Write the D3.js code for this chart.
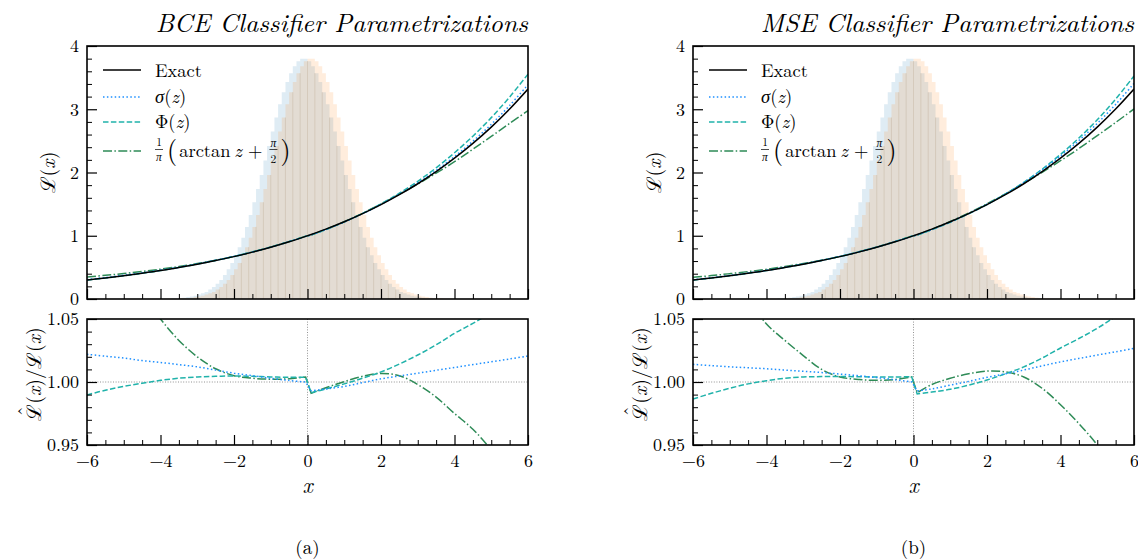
<!DOCTYPE html>
<html><head><meta charset="utf-8">
<script src="https://cdn.jsdelivr.net/npm/d3@7"></script>
<style>body{margin:0;background:#fff} svg{display:block}</style>
</head><body>
<svg id="c" width="1138" height="560"></svg>
<script>
// ---------- data ----------
const xs = [-6,-5.5,-5,-4.5,-4,-3.5,-3,-2.5,-2,-1.5,-1,-0.5,-0.05,0.1,0.5,1,1.5,2,2.5,3,3.5,4,4.5,5,5.5,6];
const exact = [0.301,0.333,0.368,0.407,0.449,0.497,0.549,0.607,0.670,0.741,0.819,0.905,0.990,1.020,1.105,1.221,1.350,1.492,1.649,1.822,2.014,2.226,2.460,2.718,3.004,3.320];
// ratio approx / exact, panel (a) BCE
const sigA  = [1.022,1.0205,1.019,1.017,1.0155,1.0138,1.012,1.0095,1.007,1.005,1.003,1.0012,1.000,0.993,0.9945,0.9965,0.9995,1.0025,1.0048,1.007,1.0093,1.0115,1.0138,1.016,1.0183,1.0206];
const phiA  = [0.9897,0.9935,0.9965,0.999,1.0013,1.003,1.004,1.0045,1.0048,1.0045,1.004,1.0037,1.0037,0.9915,0.9945,0.9985,1.003,1.008,1.0143,1.0214,1.0295,1.0386,1.0465,1.055,1.063,1.071];
const atanA = [1.16,1.125,1.095,1.07,1.05,1.033,1.02,1.0105,1.005,1.003,1.0022,1.0025,1.004,0.991,0.9955,1.0003,1.0045,1.0068,1.005,0.998,0.988,0.975,0.9625,0.946,0.924,0.897];
// ratio approx / exact, panel (b) MSE
const sigB  = [1.014,1.013,1.012,1.0113,1.0105,1.0095,1.0085,1.0075,1.0063,1.005,1.0035,1.0018,1.000,0.993,0.9945,0.9975,1.0005,1.0037,1.0065,1.0095,1.0128,1.016,1.0187,1.0214,1.024,1.0267];
const phiB  = [0.9865,0.991,0.995,0.9985,1.001,1.003,1.004,1.0043,1.0043,1.0042,1.004,1.004,1.0042,0.9905,0.992,0.9942,0.9975,1.0016,1.0065,1.012,1.019,1.027,1.0345,1.0426,1.052,1.062];
const atanB = [1.14,1.11,1.088,1.066,1.046,1.033,1.021,1.010,1.004,1.002,1.0013,1.002,1.004,0.9915,0.998,1.003,1.0065,1.0087,1.008,1.004,0.995,0.982,0.967,0.95,0.929,0.905];
// histograms (bins of width 0.1 starting at -4)
const binStart = -4, binWidth = 0.1;
const histBlue = [0.002,0.003,0.005,0.01,0.01,0.01,0.02,0.03,0.04,0.05,0.07,0.09,0.11,0.15,0.19,0.24,0.30,0.38,0.47,0.57,0.69,0.82,0.97,1.14,1.33,1.53,1.74,1.96,2.19,2.42,2.65,2.87,3.08,3.27,3.43,3.57,3.68,3.76,3.80,
  3.80,3.76,3.68,3.57,3.43,3.27,3.08,2.87,2.65,2.42,2.19,1.96,1.74,1.53,1.33,1.14,0.97,0.82,0.69,0.57,0.47,0.38,0.30,0.24,0.19,0.15,0.11,0.09,0.07,0.05,0.04,0.03,0.02,0.01,0.01,0.01,0.005,0.003,0.002,0.002,0.001];
const histOrange = [0.001,0.002,0.002,0.003,0.005,0.01,0.01,0.01,0.02,0.03,0.04,0.05,0.07,0.09,0.11,0.15,0.19,0.24,0.30,0.38,0.47,0.57,0.69,0.82,0.97,1.14,1.33,1.53,1.74,1.96,2.19,2.42,2.65,2.87,3.08,3.27,3.43,3.57,3.68,3.76,3.80,
  3.80,3.76,3.68,3.57,3.43,3.27,3.08,2.87,2.65,2.42,2.19,1.96,1.74,1.53,1.33,1.14,0.97,0.82,0.69,0.57,0.47,0.38,0.30,0.24,0.19,0.15,0.11,0.09,0.07,0.05,0.04,0.03,0.02,0.01,0.01,0.01,0.005,0.003,0.002];
const xTicks = [-6,-4,-2,0,2,4,6];
const yTopTicks = [0,1,2,3,4];
const yBotTicks = [0.95,1.00,1.05];
const titles = ["BCE Classifier Parametrizations","MSE Classifier Parametrizations"];
const subLabels = ["(a)","(b)"];
const legendLabels = ["Exact","σ(z)","Φ(z)","arctan"];

// ---------- drawing ----------
const FONT = '"Latin Modern Roman","Liberation Serif",serif';
const svg = d3.select("#c");
const defs = svg.append("defs");
const W = 441, T0 = 46, T1 = 299, B0 = 319, B1 = 445;
const panels = [
  {L:87, sig:sigA, phi:phiA, atan:atanA},
  {L:693, sig:sigB, phi:phiB, atan:atanB}
];
const styles = {
  exact:{c:"#000000", d:null},
  sig:{c:"#1E90FF", d:"1.5,2.4"},
  phi:{c:"#20B2AA", d:"5.5,2.4"},
  atan:{c:"#2E8B57", d:"9,2.4,1.5,2.4"}
};
const splitIdx = xs.findIndex(v => v > 0);

panels.forEach((p,pi)=>{
  const L = p.L;
  const x = d3.scaleLinear().domain([-6,6]).range([L, L+W]);
  const yT = d3.scaleLinear().domain([0,4]).range([T1, T0]);
  const yB = d3.scaleLinear().domain([0.95,1.05]).range([B1, B0]);
  const g = svg.append("g");

  defs.append("clipPath").attr("id","ct"+pi).append("rect").attr("x",L).attr("y",T0).attr("width",W).attr("height",T1-T0);
  defs.append("clipPath").attr("id","cb"+pi).append("rect").attr("x",L).attr("y",B0).attr("width",W).attr("height",B1-B0);

  // histograms
  const gt = g.append("g").attr("clip-path",`url(#ct${pi})`);
  const area = d3.area().x(d=>x(d[0])).y0(yT(0)).y1(d=>yT(d[1])).curve(d3.curveStepAfter);
  const mk = h => { const a = h.map((v,i)=>[binStart+i*binWidth, v]); a.push([binStart+h.length*binWidth, h[h.length-1]]); return a; };
  gt.append("path").datum(mk(histBlue)).attr("d",area).attr("fill","#1f77b4").attr("fill-opacity",0.14);
  gt.append("path").datum(mk(histOrange)).attr("d",area).attr("fill","#ff7f0e").attr("fill-opacity",0.14);
  for (let k=2;k<histBlue.length;k+=2){
    const h = Math.min(histBlue[k-1],histBlue[k],histOrange[k-1],histOrange[k]);
    if (h < 0.15) continue;
    const xv = binStart + k*binWidth;
    gt.append("line").attr("x1",x(xv)).attr("x2",x(xv)).attr("y1",yT(0)).attr("y2",yT(h))
      .attr("stroke","#b8a48c").attr("stroke-opacity",0.4).attr("stroke-width",0.8);
  }

  // curve path builder: smooth on each side of the step at x=0, joined by a straight segment
  const pathD = (data, ys) => {
    const ln = d3.line().x(d=>x(d[0])).y(d=>ys(d[1])).curve(d3.curveCatmullRom.alpha(0.5));
    return ln(data.slice(0,splitIdx)) + ln(data.slice(splitIdx)).replace(/^M/,"L");
  };
  const series = [["exact", exact.map(()=>1)], ["sig", p.sig], ["phi", p.phi], ["atan", p.atan]];
  series.slice().reverse().forEach(([k, r])=>{
    const data = xs.map((v,j)=>[v, exact[j]*r[j]]);
    gt.append("path").attr("d",pathD(data,yT)).attr("fill","none")
      .attr("stroke",styles[k].c).attr("stroke-width",1.5).attr("stroke-dasharray",styles[k].d);
  });

  // bottom panel
  const gb = g.append("g").attr("clip-path",`url(#cb${pi})`);
  gb.append("line").attr("x1",L).attr("x2",L+W).attr("y1",yB(1)).attr("y2",yB(1))
    .attr("stroke","#777").attr("stroke-width",0.8).attr("stroke-dasharray","1,1.6");
  gb.append("line").attr("x1",x(0)).attr("x2",x(0)).attr("y1",B0).attr("y2",B1)
    .attr("stroke","#777").attr("stroke-width",0.8).attr("stroke-dasharray","1,1.6");
  series.slice(1).reverse().forEach(([k, r])=>{
    const data = xs.map((v,j)=>[v, r[j]]);
    gb.append("path").attr("d",pathD(data,yB)).attr("fill","none")
      .attr("stroke",styles[k].c).attr("stroke-width",1.5).attr("stroke-dasharray",styles[k].d);
  });

  // axes
  const styleAxis = sel => {
    sel.select(".domain").remove();
    sel.attr("font-family",FONT).attr("font-size",18);
    sel.selectAll("text").attr("font-family",FONT).attr("font-size",18).attr("fill","#000");
    sel.selectAll("line").attr("stroke","#000");
  };
  const minorX = d3.range(-6,6.001,0.5).filter(v=>Math.abs(v%2)>1e-9);
  const minorYT = d3.range(0,4.001,0.2).filter(v=>Math.abs(v-Math.round(v))>1e-9);
  const minorYB = d3.range(0.95,1.0501,0.01).filter(v=>!yBotTicks.some(t=>Math.abs(t-v)<1e-6));
  g.append("g").attr("transform",`translate(0,${T1})`).call(d3.axisBottom(x).tickValues(xTicks).tickSize(-10).tickFormat("")).call(styleAxis).selectAll("line").attr("stroke-width",1.2);
  g.append("g").attr("transform",`translate(0,${T1})`).call(d3.axisBottom(x).tickValues(minorX).tickSize(-5).tickFormat("")).call(styleAxis);
  g.append("g").attr("transform",`translate(${L},0)`).call(d3.axisLeft(yT).tickValues(yTopTicks).tickSize(-10).tickPadding(8).tickFormat(d3.format("d"))).call(styleAxis).selectAll("line").attr("stroke-width",1.2);
  g.append("g").attr("transform",`translate(${L},0)`).call(d3.axisLeft(yT).tickValues(minorYT).tickSize(-5).tickFormat("")).call(styleAxis);
  g.append("g").attr("transform",`translate(0,${B1})`).call(d3.axisBottom(x).tickValues(xTicks).tickSize(-10).tickPadding(9).tickFormat(d3.format("d"))).call(styleAxis).selectAll("line").attr("stroke-width",1.2);
  g.append("g").attr("transform",`translate(0,${B1})`).call(d3.axisBottom(x).tickValues(minorX).tickSize(-5).tickFormat("")).call(styleAxis);
  g.append("g").attr("transform",`translate(${L},0)`).call(d3.axisLeft(yB).tickValues(yBotTicks).tickSize(-10).tickPadding(8).tickFormat(d3.format(".2f"))).call(styleAxis).selectAll("line").attr("stroke-width",1.2);
  g.append("g").attr("transform",`translate(${L},0)`).call(d3.axisLeft(yB).tickValues(minorYB).tickSize(-5).tickFormat("")).call(styleAxis);

  [[T0,T1],[B0,B1]].forEach(([a,b])=>{
    g.append("rect").attr("x",L).attr("y",a).attr("width",W).attr("height",b-a)
      .attr("fill","none").attr("stroke","#000").attr("stroke-width",1.6);
  });

  // title (fit to reference width)
  const tt = g.append("text").attr("x",L+W).attr("y",32).attr("text-anchor","end")
    .attr("font-family",FONT).attr("font-style","italic").attr("font-size",21).text(titles[pi]);
  const nat = tt.node().getComputedTextLength();
  tt.attr("font-size", Math.max(18, Math.min(26, 21*376/nat)));

  // x label
  g.append("text").attr("x",L+W/2).attr("y",493).attr("text-anchor","middle")
    .attr("font-family",FONT).attr("font-style","italic").attr("font-size",22).text("x");

  // y labels (rotated)
  const yl1 = g.append("text").attr("transform",`translate(${L-32},${(T0+T1)/2}) rotate(-90)`)
    .attr("text-anchor","middle").attr("font-family",FONT).attr("font-size",20);
  yl1.append("tspan").text("ℒ(");
  yl1.append("tspan").attr("font-style","italic").text("x");
  yl1.append("tspan").text(")");

  const g2 = g.append("g").attr("transform",`translate(${L-46},374) rotate(-90)`);
  const yl2 = g2.append("text").attr("font-family",FONT).attr("font-size",20);
  yl2.append("tspan").text("ℒ(");
  yl2.append("tspan").attr("font-style","italic").text("x");
  yl2.append("tspan").text(")/ℒ(");
  yl2.append("tspan").attr("font-style","italic").text("x");
  yl2.append("tspan").text(")");
  const len2 = yl2.node().getComputedTextLength();
  yl2.attr("x", -len2/2);
  const wL = yl2.node().getSubStringLength(0,1);
  g2.append("text").attr("x",-len2/2 + wL/2 + 1).attr("y",-9).attr("text-anchor","middle")
    .attr("font-family",FONT).attr("font-size",20).text("ˆ");

  g.append("text").attr("x",L+W/2).attr("y",554).attr("text-anchor","middle")
    .attr("font-family",FONT).attr("font-size",19).text(subLabels[pi]);

  // legend
  const lg = g.append("g");
  const rows = [["exact",T0+24],["sig",T0+51],["phi",T0+76],["atan",T0+105]];
  rows.forEach(([k,yy])=>{
    lg.append("line").attr("x1",L+16).attr("x2",L+54).attr("y1",yy).attr("y2",yy)
      .attr("stroke",styles[k].c).attr("stroke-width",1.5).attr("stroke-dasharray",styles[k].d);
  });
  const tx = L+68;
  lg.append("text").attr("x",tx).attr("y",T0+24+6.5).attr("font-family",FONT).attr("font-size",18.5).text(legendLabels[0]);
  const mkF = (yy, lab) => {
    const t = lg.append("text").attr("x",tx).attr("y",yy+5.5).attr("font-family",FONT).attr("font-size",18.5);
    t.append("tspan").attr("font-style", lab[0]==="σ" ? "italic" : null).text(lab[0]);
    t.append("tspan").text("(");
    t.append("tspan").attr("font-style","italic").text("z");
    t.append("tspan").text(")");
  };
  mkF(T0+51, legendLabels[1]);
  mkF(T0+76, legendLabels[2]);
  const cy = T0+105;
  let cx = tx;
  const small = (txt, xc, yb, it) => lg.append("text").attr("x",xc).attr("y",yb).attr("text-anchor","middle")
      .attr("font-family",FONT).attr("font-style",it?"italic":null).attr("font-size",11.5).text(txt);
  small("1", cx+4, cy-5.5);
  small("π", cx+4, cy+10, true);
  lg.append("line").attr("x1",cx).attr("x2",cx+8).attr("y1",cy-1.5).attr("y2",cy-1.5).attr("stroke","#000").attr("stroke-width",0.7);
  cx += 12;
  const pl = lg.append("text").attr("x",cx).attr("y",cy+8).attr("font-family",FONT).attr("font-size",26).text("(");
  cx += pl.node().getComputedTextLength() + 2;
  const mt = lg.append("text").attr("x",cx).attr("y",cy+6).attr("font-family",FONT).attr("font-size",18.5);
  mt.append("tspan").text(legendLabels[3] + "\u2009");
  mt.append("tspan").attr("font-style","italic").text("z");
  mt.append("tspan").text(" +");
  cx += mt.node().getComputedTextLength() + 7;
  small("π", cx+4, cy-4.5, true);
  small("2", cx+4, cy+11.5);
  lg.append("line").attr("x1",cx).attr("x2",cx+8).attr("y1",cy-1.5).attr("y2",cy-1.5).attr("stroke","#000").attr("stroke-width",0.7);
  cx += 11;
  lg.append("text").attr("x",cx).attr("y",cy+8).attr("font-family",FONT).attr("font-size",26).text(")");
});
</script>
</body></html>
